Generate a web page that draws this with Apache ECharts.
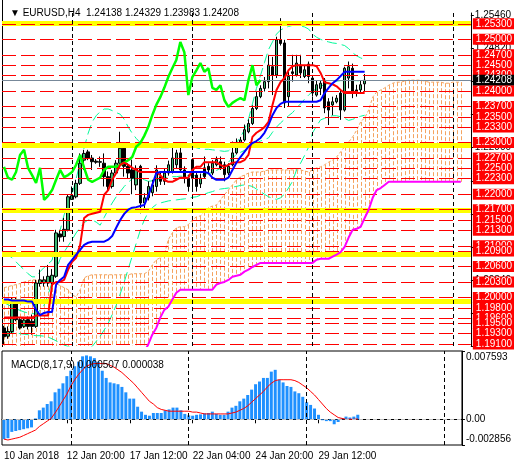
<!DOCTYPE html>
<html>
<head>
<meta charset="utf-8">
<script src="https://cdn.jsdelivr.net/npm/echarts@6/dist/echarts.min.js"></script>
<style>
html, body { margin: 0; background: #fff; }
#chart { width: 514px; height: 466px; }
</style>
</head>
<body>
<div id="chart"></div>
<script>
// EURUSD H4 candles, bar 0 = 10 Jan 2018 04:00
const opens = [1.1941,1.1925,1.1934,1.1992,1.1957,1.1944,1.1957,1.1954,1.1944,1.2027,1.2028,1.2028,1.2028,1.2041,1.2123,1.2118,1.2131,1.2190,1.2195,1.2221,1.2266,1.2282,1.2270,1.2264,1.2263,1.2260,1.2234,1.2215,1.2241,1.2260,1.2289,1.2254,1.2247,1.2218,1.2254,1.2183,1.2193,1.2203,1.2215,1.2234,1.2225,1.2241,1.2244,1.2257,1.2280,1.2247,1.2231,1.2267,1.2237,1.2220,1.2251,1.2254,1.2241,1.2257,1.2263,1.2257,1.2241,1.2257,1.2280,1.2296,1.2305,1.2321,1.2337,1.2366,1.2389,1.2405,1.2418,1.2447,1.2431,1.2499,1.2493,1.2389,1.2437,1.2431,1.2450,1.2428,1.2452,1.2425,1.2392,1.2405,1.2421,1.2379,1.2373,1.2379,1.2396,1.2363,1.2425,1.2444,1.2402,1.2402,1.24138];
const highs = [1.1945,1.1944,1.1999,1.1999,1.1960,1.1960,1.1963,1.1967,1.2034,1.2054,1.2041,1.2063,1.2055,1.2131,1.2131,1.2154,1.2199,1.2215,1.2228,1.2279,1.2286,1.2286,1.2276,1.2268,1.2273,1.2279,1.2244,1.2247,1.2266,1.2321,1.2295,1.2260,1.2267,1.2256,1.2257,1.2202,1.2225,1.2228,1.2256,1.2244,1.2250,1.2265,1.2295,1.2286,1.2295,1.2254,1.2238,1.2270,1.2241,1.2240,1.2273,1.2260,1.2266,1.2273,1.2273,1.2263,1.2260,1.2302,1.2308,1.2311,1.2335,1.2345,1.2372,1.2398,1.2411,1.2427,1.2470,1.2466,1.2505,1.2541,1.2499,1.2437,1.2470,1.2470,1.2470,1.2450,1.2457,1.2431,1.2421,1.2421,1.2425,1.2386,1.2389,1.2392,1.2402,1.2447,1.2457,1.2453,1.2412,1.2421,1.24329];
const lows = [1.1908,1.1920,1.1931,1.1954,1.1938,1.1941,1.1938,1.1928,1.1941,1.2021,1.2021,1.2021,1.2025,1.2038,1.2108,1.2108,1.2128,1.2189,1.2192,1.2218,1.2247,1.2266,1.2247,1.2259,1.2253,1.2215,1.2208,1.2211,1.2237,1.2257,1.2234,1.2230,1.2200,1.2208,1.2163,1.2173,1.2188,1.2196,1.2205,1.2218,1.2218,1.2236,1.2240,1.2250,1.2243,1.2221,1.2205,1.2212,1.2205,1.2212,1.2231,1.2240,1.2237,1.2254,1.2247,1.2225,1.2237,1.2254,1.2277,1.2293,1.2302,1.2318,1.2334,1.2363,1.2386,1.2399,1.2405,1.2392,1.2425,1.2488,1.2367,1.2370,1.2418,1.2428,1.2425,1.2425,1.2415,1.2389,1.2389,1.2392,1.2357,1.2334,1.2353,1.2376,1.2344,1.2360,1.2405,1.2386,1.2389,1.2396,1.23983];
const closes = [1.1924,1.1934,1.1990,1.1957,1.1941,1.1956,1.1944,1.1944,1.2028,1.2034,1.2034,1.2041,1.2043,1.2125,1.2117,1.2132,1.2195,1.2197,1.2221,1.2260,1.2279,1.2270,1.2263,1.2262,1.2262,1.2234,1.2215,1.2241,1.2260,1.2289,1.2254,1.2241,1.2231,1.2250,1.2183,1.2193,1.2215,1.2218,1.2247,1.2225,1.2241,1.2257,1.2270,1.2280,1.2247,1.2231,1.2215,1.2231,1.2215,1.2231,1.2234,1.2247,1.2260,1.2267,1.2251,1.2238,1.2254,1.2280,1.2296,1.2305,1.2325,1.2337,1.2366,1.2389,1.2405,1.2418,1.2450,1.2431,1.2499,1.2492,1.2377,1.2428,1.2434,1.2454,1.2435,1.2441,1.2428,1.2396,1.2412,1.2415,1.2367,1.2363,1.2379,1.2386,1.2363,1.2444,1.2447,1.2399,1.2399,1.2412,1.24208];

// Ichimoku
const tenkan = [1.1961,1.1961,1.1961,1.1961,1.1961,1.1961,1.1961,1.1961,1.1965,1.1965,1.1965,1.1965,1.2025,1.2030,1.2030,1.2034,1.2054,1.2069,1.2077,1.2102,1.2154,1.2160,1.2162,1.2164,1.2166,1.2199,1.2208,1.2228,1.2241,1.2257,1.2261,1.2257,1.2251,1.2247,1.2243,1.2243,1.2243,1.2243,1.2243,1.2237,1.2228,1.2224,1.2224,1.2228,1.2232,1.2232,1.2232,1.2247,1.2253,1.2253,1.2262,1.2262,1.2262,1.2262,1.2257,1.2253,1.2257,1.2261,1.2262,1.2262,1.2266,1.2276,1.2311,1.2319,1.2324,1.2330,1.2340,1.2373,1.2402,1.2417,1.2425,1.2440,1.2448,1.2450,1.2450,1.2450,1.2450,1.2450,1.2448,1.2435,1.2417,1.2415,1.2413,1.2409,1.2402,1.2396,1.2396,1.2396,1.2396,1.2396,1.2396];
const kijun = [1.1996,1.1996,1.1994,1.1994,1.1994,1.1994,1.1992,1.1992,1.1976,1.1966,1.1970,1.1972,1.1972,1.2025,1.2034,1.2040,1.2063,1.2073,1.2083,1.2092,1.2102,1.2106,1.2108,1.2108,1.2108,1.2108,1.2112,1.2119,1.2135,1.2150,1.2162,1.2170,1.2174,1.2175,1.2177,1.2179,1.2197,1.2218,1.2241,1.2243,1.2243,1.2243,1.2243,1.2243,1.2243,1.2243,1.2243,1.2243,1.2243,1.2243,1.2243,1.2241,1.2232,1.2228,1.2228,1.2228,1.2232,1.2247,1.2261,1.2272,1.2282,1.2292,1.2299,1.2303,1.2309,1.2319,1.2334,1.2353,1.2367,1.2375,1.2379,1.2379,1.2379,1.2379,1.2379,1.2379,1.2379,1.2379,1.2379,1.2382,1.2396,1.2406,1.2415,1.2421,1.2429,1.2437,1.2437,1.2437,1.2437,1.2437,1.2437];
const chikou = [1.2253,1.2232,1.2228,1.2243,1.2276,1.2286,1.2251,1.2237,1.2222,1.2251,1.2189,1.2197,1.2208,1.2228,1.2247,1.2233,1.2237,1.2243,1.2257,1.2276,1.2251,1.2228,1.2224,1.2228,1.2232,1.2247,1.2253,1.2253,1.2253,1.2257,1.2261,1.2266,1.2272,1.2292,1.2299,1.2313,1.2330,1.2353,1.2373,1.2388,1.2406,1.2427,1.2444,1.2460,1.2495,1.2475,1.2392,1.2427,1.2440,1.2454,1.2437,1.2444,1.2406,1.2402,1.2411,1.2382,1.2369,1.2377,1.2382,1.2386,1.2382,1.2421,1.2450,1.2411,1.2421];
const cloudTop = [1.2019,1.2021,1.2023,1.2025,1.2027,1.2030,1.2032,1.2034,1.2034,1.2034,1.2034,1.2034,1.2030,1.2027,1.2023,1.2019,1.2015,1.2005,1.2001,1.2015,1.2038,1.2042,1.2044,1.2044,1.2044,1.2044,1.2044,1.2044,1.2044,1.2044,1.2044,1.2044,1.2046,1.2046,1.2046,1.2046,1.2050,1.2063,1.2073,1.2077,1.2083,1.2112,1.2125,1.2135,1.2137,1.2137,1.2141,1.2150,1.2156,1.2158,1.2166,1.2174,1.2177,1.2179,1.2189,1.2199,1.2208,1.2218,1.2228,1.2234,1.2237,1.2241,1.2243,1.2243,1.2243,1.2245,1.2247,1.2247,1.2247,1.2247,1.2247,1.2247,1.2247,1.2247,1.2247,1.2245,1.2243,1.2247,1.2251,1.2253,1.2257,1.2262,1.2266,1.2272,1.2282,1.2292,1.2301,1.2311,1.2324,1.2340,1.2348,1.2363,1.2388,1.2398,1.2402,1.2406,1.2411,1.2415,1.2417,1.2417,1.2419,1.2421,1.2421,1.2421,1.2421,1.2419,1.2417,1.2417,1.2417,1.2417,1.2415,1.2415,1.2417,1.2417,1.2417];
const spanB = [1.1870,1.1870,1.1870,1.1870,1.1870,1.1870,1.1870,1.1870,1.1870,1.1870,1.1870,1.1870,1.1870,1.1870,1.1870,1.1870,1.1870,1.1870,1.1870,1.1870,1.1870,1.1870,1.1870,1.1870,1.1870,1.1870,1.1870,1.1870,1.1870,1.1870,1.1870,1.1870,1.1872,1.1878,1.1886,1.1895,1.1909,1.1928,1.1941,1.1961,1.1976,1.1982,1.1996,1.2009,1.2015,1.2015,1.2015,1.2015,1.2015,1.2015,1.2015,1.2015,1.2015,1.2025,1.2028,1.2030,1.2034,1.2040,1.2042,1.2044,1.2050,1.2054,1.2059,1.2063,1.2067,1.2067,1.2067,1.2067,1.2067,1.2067,1.2067,1.2067,1.2067,1.2067,1.2067,1.2067,1.2067,1.2067,1.2073,1.2075,1.2075,1.2075,1.2079,1.2083,1.2088,1.2098,1.2116,1.2131,1.2133,1.2137,1.2154,1.2170,1.2193,1.2208,1.2212,1.2218,1.2224,1.2224,1.2224,1.2224,1.2224,1.2224,1.2224,1.2224,1.2224,1.2224,1.2224,1.2224,1.2224,1.2224,1.2224,1.2224,1.2224,1.2224,1.2224];

// Bollinger bands
const bbUpper = [1.2086,1.2082,1.2077,1.2069,1.2061,1.2054,1.2046,1.2040,1.2040,1.2050,1.2058,1.2065,1.2072,1.2105,1.2130,1.2160,1.2180,1.2200,1.2230,1.2262,1.2290,1.2318,1.2340,1.2352,1.2360,1.2365,1.2365,1.2362,1.2358,1.2355,1.2345,1.2330,1.2318,1.2308,1.2300,1.2295,1.2293,1.2292,1.2290,1.2290,1.2290,1.2290,1.2292,1.2295,1.2297,1.2296,1.2294,1.2292,1.2290,1.2288,1.2287,1.2287,1.2286,1.2285,1.2284,1.2283,1.2284,1.2290,1.2300,1.2310,1.2325,1.2345,1.2375,1.2405,1.2430,1.2455,1.2480,1.2495,1.2510,1.2518,1.2522,1.2525,1.2527,1.2527,1.2526,1.2524,1.2520,1.2510,1.2504,1.2500,1.2497,1.2495,1.2493,1.2492,1.2490,1.2488,1.2482,1.2474,1.2468,1.2464,1.2461];
const bbMiddle = [1.1990,1.1986,1.1982,1.1978,1.1975,1.1972,1.1970,1.1969,1.1968,1.1975,1.1985,1.2005,1.2030,1.2052,1.2075,1.2088,1.2100,1.2112,1.2125,1.2135,1.2145,1.2150,1.2150,1.2146,1.2140,1.2155,1.2170,1.2183,1.2195,1.2205,1.2215,1.2223,1.2230,1.2230,1.2230,1.2228,1.2225,1.2226,1.2228,1.2230,1.2232,1.2233,1.2234,1.2234,1.2235,1.2235,1.2236,1.2236,1.2236,1.2237,1.2238,1.2240,1.2242,1.2246,1.2250,1.2256,1.2262,1.2270,1.2277,1.2281,1.2285,1.2290,1.2295,1.2299,1.2303,1.2306,1.2309,1.2320,1.2330,1.2338,1.2345,1.2352,1.2358,1.2367,1.2375,1.2384,1.2392,1.2399,1.2405,1.2409,1.2412,1.2415,1.2418,1.2419,1.2420,1.2420,1.2420,1.2420,1.2420,1.2419,1.2418];
const bbLower = [1.1935,1.1934,1.1932,1.1931,1.1930,1.1929,1.1928,1.1927,1.1926,1.1926,1.1925,1.1923,1.1920,1.1916,1.1912,1.1908,1.1905,1.1902,1.1900,1.1899,1.1898,1.1900,1.1905,1.1915,1.1925,1.1937,1.1950,1.1967,1.1985,1.2007,1.2030,1.2055,1.2080,1.2105,1.2130,1.2150,1.2165,1.2174,1.2180,1.2183,1.2185,1.2187,1.2188,1.2189,1.2190,1.2191,1.2192,1.2194,1.2195,1.2198,1.2200,1.2203,1.2205,1.2208,1.2210,1.2211,1.2212,1.2214,1.2215,1.2217,1.2218,1.2217,1.2215,1.2210,1.2205,1.2200,1.2195,1.2192,1.2190,1.2193,1.2200,1.2212,1.2225,1.2247,1.2260,1.2275,1.2291,1.2319,1.2332,1.2344,1.2347,1.2350,1.2352,1.2352,1.2350,1.2347,1.2343,1.2345,1.2348,1.2351,1.2353];

// MACD(8,17,9)
const macdHist = [-0.0022,-0.0021,-0.0014,-0.0013,-0.0012,-0.0011,-0.0010,-0.0009,0.0001,0.0010,0.0013,0.0017,0.0020,0.0030,0.0034,0.0040,0.0048,0.0054,0.0059,0.0064,0.0070,0.0071,0.0070,0.0068,0.0064,0.0054,0.0046,0.0041,0.0040,0.0039,0.0036,0.0030,0.0023,0.0023,0.0014,0.00085,0.0005,0.0004,0.0007,0.0007,0.0007,0.0010,0.0011,0.0013,0.0013,0.0010,0.0006,0.00044,0.0004,0.0005,0.00055,0.00067,0.0007,0.00085,0.0006,0.0005,0.0005,0.00085,0.0013,0.0015,0.0020,0.0023,0.0027,0.0033,0.0039,0.0042,0.0046,0.0046,0.0053,0.0055,0.0044,0.0041,0.0037,0.0036,0.0031,0.0029,0.0025,0.0019,0.0016,0.0012,0.0005,-0.0001,-0.0002,-0.0002,-0.00055,-0.0003,0.0001,0.0003,0.0002,0.0003,0.000507];
const macdSignal = [-0.0022,-0.0023,-0.0022,-0.0021,-0.0020,-0.0018,-0.0016,-0.0014,-0.0012,-0.0008,-0.0005,-0.0002,0.0001,0.0007,0.0014,0.0021,0.0028,0.0037,0.0044,0.0050,0.0055,0.0059,0.0061,0.0062,0.0062,0.0062,0.0062,0.0060,0.0058,0.0055,0.0052,0.0048,0.0044,0.0040,0.0035,0.0030,0.0025,0.0020,0.0017,0.0013,0.0011,0.0010,0.0009,0.0009,0.0009,0.0009,0.0009,0.0009,0.0008,0.0008,0.0007,0.0006,0.0006,0.0006,0.0006,0.0006,0.0006,0.0006,0.0007,0.0008,0.0010,0.0012,0.0015,0.0019,0.0023,0.0027,0.0031,0.0036,0.0040,0.0043,0.0044,0.0044,0.0044,0.0044,0.0043,0.0041,0.0038,0.0035,0.0031,0.0027,0.0022,0.0017,0.0012,0.0008,0.0005,0.0002,0.0001,0.0000,0.0000,0.0000,0.000038];

// horizontal levels
const levels = [1.253,1.250,1.247,1.245,1.243,1.240,1.237,1.235,1.233,1.230,1.227,1.225,1.223,1.220,1.217,1.215,1.213,1.210,1.209,1.206,1.203,1.200,1.198,1.196,1.195,1.193,1.191];
const zones = [1.2532,1.2294,1.2169,1.2083,1.1993];
const lastPrice = 1.24208;

// time axis
const slots = Array.from({ length: 117 }, (_, i) => i);
const tickBars = [0, 16, 32, 48, 64, 80];
const tickLabels = ['10 Jan 2018', '12 Jan 20:00', '17 Jan 12:00', '22 Jan 04:00', '24 Jan 20:00', '29 Jan 12:00'];
const weekBars = [17, 47, 77, 112];

const font = 'Liberation Sans, Arial, sans-serif';
const chart = echarts.init(document.getElementById('chart'));

const candles = opens.map((o, i) => [o, closes[i], lows[i], highs[i]]);

let levelData = levels.map(v => ({
  yAxis: v,
  lineStyle: { color: '#ff0000', type: [14, 5], width: 1 },
  label: { formatter: v.toFixed(5), backgroundColor: '#ff0000', color: '#fff' }
}));
levelData.push({
  yAxis: lastPrice,
  lineStyle: { color: '#778899', type: 'solid', width: 1 },
  label: { formatter: lastPrice.toFixed(5), backgroundColor: '#000', color: '#fff' }
});
levelData.sort((a, b) => b.yAxis - a.yAxis);

const sepLine = {
  silent: true,
  symbol: ['none', 'none'],
  label: { show: false },
  lineStyle: { color: '#000', type: [4, 3], width: 1 },
  data: weekBars.map(b => ({ xAxis: b }))
};

const isTick = (idx) => tickBars.indexOf(idx) >= 0;

chart.setOption({
  animation: false,
  backgroundColor: '#fff',
  textStyle: { fontFamily: font },
  title: [
    { text: '▼ EURUSD,H4  1.24138 1.24329 1.23983 1.24208', left: 5, top: 3,
      textStyle: { fontSize: 10, fontWeight: 'normal', color: '#000', fontFamily: font } },
    { text: 'MACD(8,17,9) 0.000507 0.000038', left: 6, top: 355,
      textStyle: { fontSize: 10, fontWeight: 'normal', color: '#000', fontFamily: font } }
  ],
  graphic: [
    { type: 'line', shape: { x1: 2.5, y1: 0, x2: 2.5, y2: 347 }, style: { stroke: '#000', lineWidth: 1 } }
  ],
  grid: [
    { left: 2, right: 42, top: 13, height: 333, show: false },
    { left: 2, right: 42, top: 351, height: 94, show: true, borderColor: '#000', borderWidth: 1 }
  ],
  xAxis: [
    { type: 'category', gridIndex: 0, data: slots, boundaryGap: true,
      axisLine: { show: false }, axisTick: { show: false }, axisLabel: { show: false }, splitLine: { show: false } },
    { type: 'category', gridIndex: 1, data: slots, boundaryGap: true,
      axisLine: { show: true, lineStyle: { color: '#000' } },
      axisTick: { show: true, interval: (i) => isTick(i), alignWithLabel: true, length: 4, lineStyle: { color: '#000' } },
      axisLabel: { interval: (i) => isTick(i), align: 'left', margin: 6, fontSize: 10, color: '#000',
        formatter: (v, i) => tickLabels[tickBars.indexOf(i)] || '' },
      splitLine: { show: false } }
  ],
  yAxis: [
    { type: 'value', gridIndex: 0, position: 'right', min: 1.1906, max: 1.2551, interval: 0.0064, scale: true,
      axisLine: { show: true, lineStyle: { color: '#000' } },
      axisTick: { show: true, length: 3, lineStyle: { color: '#000' } },
      axisLabel: { fontSize: 10, color: '#000', margin: 4, showMaxLabel: false, formatter: v => v.toFixed(5) },
      splitLine: { show: false } },
    { type: 'value', gridIndex: 1, position: 'right', min: -0.002856, max: 0.007593,
      axisLine: { show: true, lineStyle: { color: '#000' } },
      axisTick: { show: true, length: 3, customValues: [-0.002856, 0, 0.007593], lineStyle: { color: '#000' } },
      axisLabel: { fontSize: 10, color: '#000', margin: 4, customValues: [-0.002856, 0, 0.007593],
        formatter: v => v > 0.007 ? '{t|0.007593}' : (v < -0.002 ? '{b|-0.002856}' : '0.00'),
        rich: { t: { padding: [12, 0, 0, 0], fontSize: 10 }, b: { padding: [0, 0, 12, 0], fontSize: 10 } } },
      splitLine: { show: false } }
  ],
  series: [
    // cloud hatching
    { type: 'custom', name: 'cloud', xAxisIndex: 0, yAxisIndex: 0, clip: true, z: 1, silent: true,
      data: cloudTop.map((t, i) => [i, t, spanB[i]]),
      encode: { x: 0, y: [1, 2] },
      renderItem: (params, api) => {
        const a = api.coord([api.value(0), api.value(1)]);
        const b = api.coord([api.value(0), api.value(2)]);
        const x = Math.round(a[0]) + 0.5;
        return { type: 'line', shape: { x1: x, y1: a[1], x2: x, y2: b[1] },
          style: { stroke: '#F4A460', lineWidth: 1, lineDash: [4, 2] } };
      } },
    { type: 'line', name: 'spanA', data: cloudTop, showSymbol: false, z: 1, silent: true,
      lineStyle: { color: '#F4A460', width: 1, type: [3, 2] } },
    // yellow zones
    { type: 'line', name: 'zones', data: [], z: 1, silent: true,
      markLine: { silent: true, precision: 6, symbol: ['none', 'none'], label: { show: false },
        lineStyle: { color: '#ffff00', width: 5, type: 'solid' },
        data: zones.map(v => ({ yAxis: v })) } },
    // red levels + price labels
    { type: 'line', name: 'levels', data: [], z: 2, silent: true,
      markLine: { silent: true, precision: 6, symbol: ['none', 'none'],
        label: { show: true, position: 'end', distance: 2, fontSize: 10, fontFamily: font,
          padding: [1, 5, 0, 3], lineHeight: 10 },
        data: levelData } },
    { type: 'line', name: 'sep', data: [], z: 2, silent: true, markLine: sepLine },
    // bollinger
    { type: 'line', name: 'bbU', data: bbUpper, showSymbol: false, z: 3, silent: true,
      lineStyle: { color: '#00FA9A', width: 1, type: [10, 5] } },
    { type: 'line', name: 'bbM', data: bbMiddle, showSymbol: false, z: 3, silent: true,
      lineStyle: { color: '#00FA9A', width: 1, type: [10, 5] } },
    { type: 'line', name: 'bbL', data: bbLower, showSymbol: false, z: 3, silent: true,
      lineStyle: { color: '#00FA9A', width: 1, type: [10, 5] } },
    // candles
    { type: 'candlestick', name: 'EURUSD', data: candles, barWidth: 3, z: 4,
      itemStyle: { color: '#3CB371', color0: '#000', borderColor: '#000', borderColor0: '#000', borderWidth: 1 } },
    // ichimoku lines
    { type: 'line', name: 'spanB', data: spanB, showSymbol: false, z: 5, silent: true,
      lineStyle: { color: '#FF00FF', width: 2 } },
    { type: 'line', name: 'chikou', data: chikou, showSymbol: false, z: 5, silent: true,
      lineStyle: { color: '#00FF00', width: 2.5 } },
    { type: 'line', name: 'tenkan', data: tenkan, showSymbol: false, z: 6, silent: true,
      lineStyle: { color: '#FF0000', width: 2 } },
    { type: 'line', name: 'kijun', data: kijun, showSymbol: false, z: 6, silent: true,
      lineStyle: { color: '#0000FF', width: 2 } },
    // MACD pane
    { type: 'bar', name: 'macd', xAxisIndex: 1, yAxisIndex: 1, data: macdHist, barWidth: 3, z: 3,
      itemStyle: { color: '#1E90FF' },
      markLine: { silent: true, precision: 6, symbol: ['none', 'none'], label: { show: false },
        lineStyle: { color: '#C0C0C0', type: [4, 3], width: 1 }, data: [{ yAxis: 0 }] } },
    { type: 'line', name: 'signal', xAxisIndex: 1, yAxisIndex: 1, data: macdSignal, showSymbol: false, z: 4,
      lineStyle: { color: '#FF0000', width: 1 } },
    { type: 'line', name: 'sep2', xAxisIndex: 1, yAxisIndex: 1, data: [], z: 2, silent: true, markLine: sepLine }
  ]
});
</script>
</body>
</html>
